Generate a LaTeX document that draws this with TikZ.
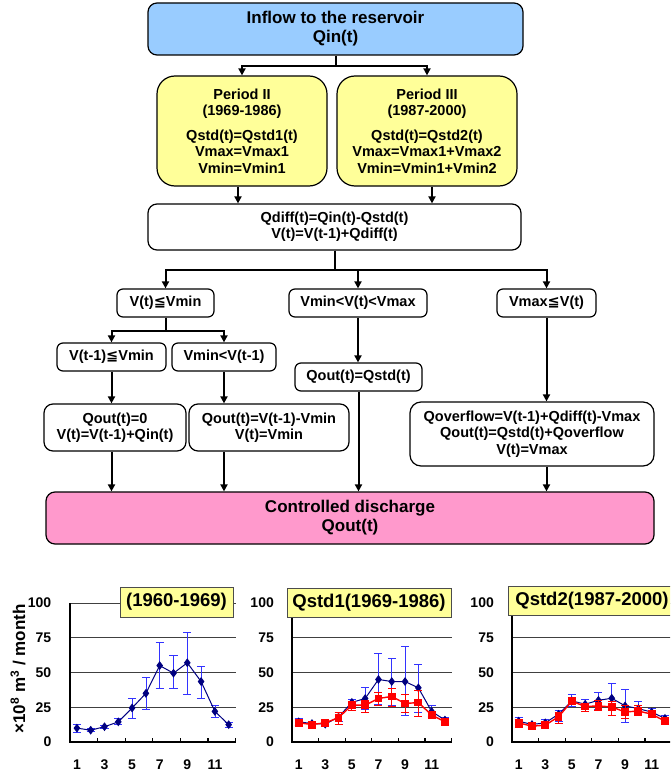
\documentclass[tikz,border=0pt]{standalone}
\usepackage{fontspec}
\setmainfont{Liberation Sans}
\newfontfamily\symfont{DejaVu Sans}
\usetikzlibrary{arrows.meta,positioning,plotmarks}
\definecolor{skyblue}{HTML}{99CCFF}
\definecolor{paleyellow}{HTML}{FFFF99}
\definecolor{pinkbox}{HTML}{FF99CC}
\definecolor{navy}{HTML}{000080}
\definecolor{barblue}{HTML}{3333FF}
\definecolor{redline}{HTML}{FF0000}
\newcommand{\leqsym}{{\symfont ≦}}
\tikzset{
  >={Triangle[length=7pt,width=7pt]},
  every node/.style={font=\bfseries\fontsize{14.5}{16.5}\selectfont},
  box/.style={draw=black,line width=1.2pt,rounded corners=6pt,fill=white,align=center,inner sep=0pt},
  inflowbox/.style={box,fill=skyblue,rounded corners=9pt,font=\bfseries\fontsize{17}{19}\selectfont},
  periodbox/.style={box,fill=paleyellow,rounded corners=18pt},
  outbox/.style={box,fill=pinkbox,rounded corners=9pt,font=\bfseries\fontsize{17}{19}\selectfont},
  arrow/.style={->,line width=2pt},
  grid line/.style={black!75,line width=0.6pt},
  axis line/.style={black,line width=1.1pt},
  errblue/.style={barblue,line width=0.8pt},
  errred/.style={redline,line width=0.8pt},
  seriesblue/.style={navy,line width=1pt,mark=diamond*,mark size=3.6pt,mark options={fill=navy,draw=navy}},
  seriesred/.style={redline,line width=1.4pt,mark=square*,mark size=3.2pt,mark options={fill=redline,draw=redline}},
  titlebox/.style={draw=black!70,line width=0.7pt,fill=paleyellow,inner sep=0pt,font=\bfseries\fontsize{18.5}{20}\selectfont},
  ticklabel/.style={font=\bfseries\fontsize{14}{16}\selectfont}
}

\begin{document}
\begin{tikzpicture}[x=1pt,y=-1pt]
  \clip (0,0) rectangle (670,778);

  % flow chart
  \node[inflowbox,minimum width=375pt,minimum height=52pt] (inflow) at (335.5,29) {Inflow to the reservoir\\Qin(t)};
  \node[periodbox,minimum width=170pt,minimum height=110pt] (p2) at (242,131) {Period II\\(1969-1986)\\[8pt]Qstd(t)=Qstd1(t)\\Vmax=Vmax1\\Vmin=Vmin1};
  \node[periodbox,minimum width=180pt,minimum height=110pt] (p3) at (427,131) {Period III\\(1987-2000)\\[8pt]Qstd(t)=Qstd2(t)\\Vmax=Vmax1+Vmax2\\Vmin=Vmin1+Vmin2};
  \node[box,rounded corners=9pt,minimum width=373pt,minimum height=46pt] (qdiff) at (334.5,227) {Qdiff(t)=Qin(t)-Qstd(t)\\V(t)=V(t-1)+Qdiff(t)};

  \node[box,minimum width=97pt,minimum height=28pt] (c1) at (165.5,303) {V(t)\leqsym Vmin};
  \node[box,minimum width=138pt,minimum height=28pt] (c2) at (358,303) {Vmin<V(t)<Vmax};
  \node[box,minimum width=99pt,minimum height=28pt] (c3) at (546.5,303) {Vmax\leqsym V(t)};

  \node[box,minimum width=109pt,minimum height=28pt] (c11) at (111.5,357) {V(t-1)\leqsym Vmin};
  \node[box,minimum width=104pt,minimum height=28pt] (c12) at (224,357) {Vmin<V(t-1)};
  \node[box,minimum width=127pt,minimum height=28pt] (r0) at (358.5,377) {Qout(t)=Qstd(t)};

  \node[box,rounded corners=9pt,minimum width=142pt,minimum height=47pt] (r11) at (115,427.5) {Qout(t)=0\\V(t)=V(t-1)+Qin(t)};
  \node[box,rounded corners=9pt,minimum width=160pt,minimum height=47pt] (r12) at (269,427.5) {Qout(t)=V(t-1)-Vmin\\V(t)=Vmin};
  \node[box,rounded corners=11pt,minimum width=244pt,minimum height=64pt] (r3) at (532,434) {Qoverflow=V(t-1)+Qdiff(t)-Vmax\\Qout(t)=Qstd(t)+Qoverflow\\V(t)=Vmax};

  \node[outbox,minimum width=608pt,minimum height=52pt] (out) at (350,518) {Controlled discharge\\Qout(t)};

  \draw[arrow] (inflow.south) -- ++(0,10) -| (p2.north);
  \draw[arrow] (inflow.south) -- ++(0,10) -| (p3.north);
  \draw[arrow] ([xshift=-4pt]p2.south) -- ([xshift=-4pt]p2.south |- qdiff.north);
  \draw[arrow] ([xshift=5pt]p3.south) -- ([xshift=5pt]p3.south |- qdiff.north);
  \draw[arrow] (qdiff.south) -- ++(0,19) -| (c1.north);
  \draw[arrow] (qdiff.south) -- ++(0,19) -| (c2.north);
  \draw[arrow] (qdiff.south) -- ++(0,19) -| (c3.north);
  \draw[arrow] (c1.south) -- ++(0,13) -| (c11.north);
  \draw[arrow] (c1.south) -- ++(0,13) -| (c12.north);
  \draw[arrow] (c2.south) -- (c2.south |- r0.north);
  \draw[arrow] (c3.south) -- (c3.south |- r3.north);
  \draw[arrow] (c11.south) -- (c11.south |- r11.north);
  \draw[arrow] (c12.south) -- (c12.south |- r12.north);
  \draw[arrow] (c11.south |- r11.south) -- (c11.south |- out.north);
  \draw[arrow] (c12.south |- r12.south) -- (c12.south |- out.north);
  \draw[arrow] (r0.south) -- (r0.south |- out.north);
  \draw[arrow] (c3.south |- r3.south) -- (c3.south |- out.north);

  % chart (1960-1969)
  \begin{scope}[shift={(70,742)},x=13.8pt,y=1.39pt]
    \foreach \g in {25,50,75,100} \draw[grid line] (0,\g) -- (12,\g);
    \draw[axis line] (0,100) -- (0,0) -- (12,0);
    \foreach \t in {2,4,...,12} \draw[axis line] (\t,0) -- (\t,3);
    \foreach \g in {0,25,50,75,100} \node[ticklabel,anchor=east] at (-1.1,\g) {\g};
    \foreach \m in {1,3,...,11} \node[ticklabel] at (\m-0.5,-16.5) {\m};
    \foreach \m/\lo/\hi in {1/7/13,2/7.5/10,3/10/12,4/12.5/17,5/17/31.5,6/23.5/46.5,7/38.5/71.5,8/38.5/62,9/34/78.5,10/31.5/54.5,11/18/26.5,12/10.5/14}
      \draw[errblue] (\m-0.5,\lo) -- (\m-0.5,\hi) (\m-0.8,\lo) -- (\m-0.2,\lo) (\m-0.8,\hi) -- (\m-0.2,\hi);
    \draw[seriesblue] plot coordinates {(0.5,10) (1.5,8.5) (2.5,11) (3.5,14.5) (4.5,24.5) (5.5,35) (6.5,55) (7.5,49.5) (8.5,57) (9.5,43.5) (10.5,22) (11.5,12.5)};
  \end{scope}

  % chart Qstd1
  \begin{scope}[shift={(292,742)},x=13.3pt,y=1.39pt]
    \foreach \g in {25,50,75,100} \draw[grid line] (0,\g) -- (12,\g);
    \draw[axis line] (0,100) -- (0,0) -- (12,0);
    \foreach \t in {2,4,...,12} \draw[axis line] (\t,0) -- (\t,3);
    \foreach \g in {0,25,50,75,100} \node[ticklabel,anchor=east] at (-1.1,\g) {\g};
    \foreach \m in {1,3,...,11} \node[ticklabel] at (\m-0.5,-16.5) {\m};
    \foreach \m/\lo/\hi in {1/12/17,2/12/15,3/12/15,4/15/21,5/26/31,6/23.5/39,7/27/63.5,8/26/60.5,9/19.5/68.5,10/21/56,11/18.5/26.5,12/14/18}
      \draw[errblue] (\m-0.5,\lo) -- (\m-0.5,\hi) (\m-0.8,\lo) -- (\m-0.2,\lo) (\m-0.8,\hi) -- (\m-0.2,\hi);
    \draw[seriesblue] plot coordinates {(0.5,14.5) (1.5,13.3) (2.5,12.8) (3.5,18) (4.5,28.5) (5.5,31.3) (6.5,45) (7.5,43.5) (8.5,43.5) (9.5,39) (10.5,22) (11.5,15.8)};
    \foreach \m/\lo/\hi in {1/12/16,2/10/15,3/12/15,4/12.5/21.5,5/22.5/29,6/21/30,7/26.5/36,8/25.5/38.5,9/21/34,10/18.7/37,11/18/22,12/13/17}
      \draw[errred] (\m-0.5,\lo) -- (\m-0.5,\hi) (\m-0.8,\lo) -- (\m-0.2,\lo) (\m-0.8,\hi) -- (\m-0.2,\hi);
    \draw[seriesred] plot coordinates {(0.5,13.8) (1.5,12.6) (2.5,13.8) (3.5,17.5) (4.5,26.5) (5.5,26.5) (6.5,31.3) (7.5,32.8) (8.5,27.7) (9.5,28.4) (10.5,19.4) (11.5,14.6)};
  \end{scope}

  % chart Qstd2
  \begin{scope}[shift={(512,742)},x=13.3pt,y=1.39pt]
    \foreach \g in {25,50,75,100} \draw[grid line] (0,\g) -- (12,\g);
    \draw[axis line] (0,100) -- (0,0) -- (12,0);
    \foreach \t in {2,4,...,12} \draw[axis line] (\t,0) -- (\t,3);
    \foreach \g in {0,25,50,75,100} \node[ticklabel,anchor=east] at (-1.1,\g) {\g};
    \foreach \m in {1,3,...,11} \node[ticklabel] at (\m-0.5,-16.5) {\m};
    \foreach \m/\lo/\hi in {1/12.5/17.5,2/11/14,3/12/16,4/15/22.5,5/25.5/34.5,6/22/31,7/23.5/35.7,8/19.4/42,9/13.8/37.6,10/20.6/29,11/19/24,12/15/19}
      \draw[errblue] (\m-0.5,\lo) -- (\m-0.5,\hi) (\m-0.8,\lo) -- (\m-0.2,\lo) (\m-0.8,\hi) -- (\m-0.2,\hi);
    \draw[seriesblue] plot coordinates {(0.5,15) (1.5,12.6) (2.5,13.8) (3.5,20) (4.5,29.6) (5.5,27.2) (6.5,30) (7.5,31.5) (8.5,26) (9.5,24) (10.5,21.5) (11.5,17)};
    \foreach \m/\lo/\hi in {1/10.5/16,2/9.5/13,3/10/14,4/13.5/21,5/27/32,6/22/28,7/23/30,8/19/29,9/17/26,10/19/26,11/18/22,12/13/18}
      \draw[errred] (\m-0.5,\lo) -- (\m-0.5,\hi) (\m-0.8,\lo) -- (\m-0.2,\lo) (\m-0.8,\hi) -- (\m-0.2,\hi);
    \draw[seriesred] plot coordinates {(0.5,13.8) (1.5,11.4) (2.5,12.1) (3.5,18.2) (4.5,29.4) (5.5,25.5) (6.5,26) (7.5,25.2) (8.5,21.6) (9.5,22.3) (10.5,20) (11.5,15)};
  \end{scope}

  \node[titlebox,minimum width=113pt,minimum height=30pt] (title1) at (176.5,602) {(1960-1969)};
  \node[titlebox,minimum width=164pt,minimum height=29pt] (title2) at (369,602.5) {Qstd1(1969-1986)};
  \node[titlebox,minimum width=168pt,minimum height=29pt] (title3) at (592,600.5) {Qstd2(1987-2000)};
  \node[font=\bfseries\fontsize{17}{19}\selectfont,rotate=90] (ylabel) at (18,669) {×10\textsuperscript{8} m\textsuperscript{3} / month};
\end{tikzpicture}
\end{document}
